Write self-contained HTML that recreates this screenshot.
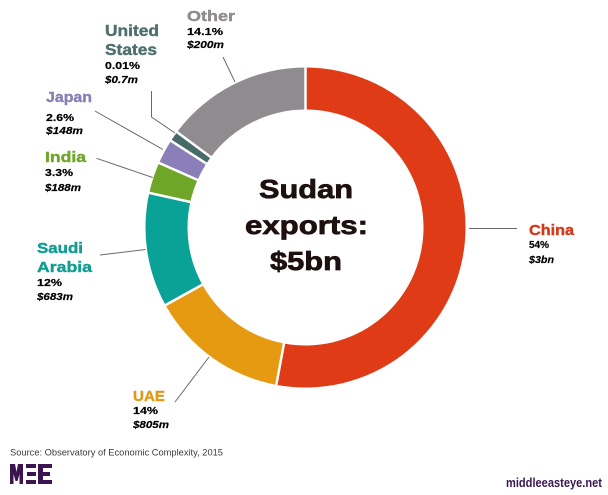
<!DOCTYPE html>
<html>
<head>
<meta charset="utf-8">
<style>
html,body{margin:0;padding:0;background:#fff;}
svg{display:block;}
text{font-family:"Liberation Sans",Arial,sans-serif;}
</style>
</head>
<body>
<svg width="608" height="495" viewBox="0 0 608 495" xmlns="http://www.w3.org/2000/svg">
<rect width="608" height="495" fill="#fff"/>
<g>
<path d="M305.5 67.5 A160 160 0 1 1 276.34 384.82 L284.00 343.52 A118 118 0 1 0 305.5 109.5 Z" fill="#e03b17"/>
<path d="M276.34 384.82 A160 160 0 0 1 165.56 305.07 L202.29 284.71 A118 118 0 0 0 284.00 343.52 Z" fill="#e69a12"/>
<path d="M165.56 305.07 A160 160 0 0 1 149.29 192.87 L190.30 201.96 A118 118 0 0 0 202.29 284.71 Z" fill="#0aa196"/>
<path d="M149.29 192.87 A160 160 0 0 1 159.11 162.93 L197.53 179.88 A118 118 0 0 0 190.30 201.96 Z" fill="#6ea628"/>
<path d="M159.11 162.93 A160 160 0 0 1 171.01 140.83 L206.31 163.58 A118 118 0 0 0 197.53 179.88 Z" fill="#8a7fb8"/>
<path d="M171.01 140.83 A160 160 0 0 1 177.05 132.10 L210.77 157.15 A118 118 0 0 0 206.31 163.58 Z" fill="#476b69"/>
<path d="M177.05 132.10 A160 160 0 0 1 305.5 67.5 L305.5 109.5 A118 118 0 0 0 210.77 157.15 Z" fill="#8f8b8f"/>
</g>
<g stroke="#fff" stroke-width="2.5">
<line x1="305.5" y1="112.5" x2="305.5" y2="64.5"/>
<line x1="284.54" y1="340.57" x2="275.79" y2="387.77"/>
<line x1="204.92" y1="283.25" x2="162.94" y2="306.52"/>
<line x1="193.23" y1="202.61" x2="146.36" y2="192.22"/>
<line x1="200.28" y1="181.09" x2="156.36" y2="161.72"/>
<line x1="208.83" y1="165.20" x2="168.49" y2="139.20"/>
<line x1="213.18" y1="158.93" x2="174.64" y2="130.32"/>
</g>

<!-- leader lines -->
<g stroke="#6a6a6a" stroke-width="1" fill="none">
<line x1="223" y1="57" x2="235" y2="82"/>
<polyline points="151.5,91 151.5,117 175,133"/>
<line x1="95" y1="111" x2="163" y2="149.5"/>
<line x1="96.5" y1="158.3" x2="152.7" y2="177.5"/>
<line x1="100" y1="255" x2="145.5" y2="249.5"/>
<line x1="175" y1="402" x2="209" y2="357"/>
<line x1="469" y1="228.5" x2="517" y2="228.5"/>
</g>

<!-- center title -->
<g fill="#1e1010" stroke="#1e1010" stroke-width="0.7" font-weight="bold" font-size="26" text-anchor="middle">
<text x="306" y="198" textLength="94" lengthAdjust="spacingAndGlyphs">Sudan</text>
<text x="306.5" y="234" textLength="123" lengthAdjust="spacingAndGlyphs">exports:</text>
<text x="306" y="270" textLength="72" lengthAdjust="spacingAndGlyphs">$5bn</text>
</g>

<!-- labels -->
<g font-weight="bold">
<text x="187" y="21" font-size="15" fill="#8f8b8f" stroke="#8f8b8f" stroke-width="0.4" textLength="48" lengthAdjust="spacingAndGlyphs">Other</text>
<text x="187" y="35" font-size="10.5" fill="#000" stroke="#000" stroke-width="0.2" textLength="36" lengthAdjust="spacingAndGlyphs">14.1%</text>
<text x="187" y="48" font-size="10.5" fill="#000" stroke="#000" stroke-width="0.2" font-style="italic" textLength="37" lengthAdjust="spacingAndGlyphs">$200m</text>

<text x="105" y="36" font-size="16" fill="#4f7070" stroke="#4f7070" stroke-width="0.4" textLength="54" lengthAdjust="spacingAndGlyphs">United</text>
<text x="105" y="55" font-size="16" fill="#4f7070" stroke="#4f7070" stroke-width="0.4" textLength="52" lengthAdjust="spacingAndGlyphs">States</text>
<text x="105" y="69" font-size="10.5" fill="#000" stroke="#000" stroke-width="0.2" textLength="35" lengthAdjust="spacingAndGlyphs">0.01%</text>
<text x="105" y="83" font-size="10.5" fill="#000" stroke="#000" stroke-width="0.2" font-style="italic" textLength="33" lengthAdjust="spacingAndGlyphs">$0.7m</text>

<text x="46" y="102" font-size="15" fill="#8a80b8" stroke="#8a80b8" stroke-width="0.4" textLength="46" lengthAdjust="spacingAndGlyphs">Japan</text>
<text x="46" y="121" font-size="10.5" fill="#000" stroke="#000" stroke-width="0.2" textLength="28" lengthAdjust="spacingAndGlyphs">2.6%</text>
<text x="46" y="134" font-size="10.5" fill="#000" stroke="#000" stroke-width="0.2" font-style="italic" textLength="37" lengthAdjust="spacingAndGlyphs">$148m</text>

<text x="45" y="162" font-size="15" fill="#6fa52b" stroke="#6fa52b" stroke-width="0.4" textLength="41" lengthAdjust="spacingAndGlyphs">India</text>
<text x="45" y="176" font-size="10.5" fill="#000" stroke="#000" stroke-width="0.2" textLength="28" lengthAdjust="spacingAndGlyphs">3.3%</text>
<text x="45" y="191" font-size="10.5" fill="#000" stroke="#000" stroke-width="0.2" font-style="italic" textLength="36" lengthAdjust="spacingAndGlyphs">$188m</text>

<text x="37" y="253" font-size="15" fill="#109e94" stroke="#109e94" stroke-width="0.4" textLength="46" lengthAdjust="spacingAndGlyphs">Saudi</text>
<text x="37" y="272" font-size="15" fill="#109e94" stroke="#109e94" stroke-width="0.4" textLength="55" lengthAdjust="spacingAndGlyphs">Arabia</text>
<text x="37" y="286" font-size="10.5" fill="#000" stroke="#000" stroke-width="0.2" textLength="25" lengthAdjust="spacingAndGlyphs">12%</text>
<text x="37" y="300" font-size="10.5" fill="#000" stroke="#000" stroke-width="0.2" font-style="italic" textLength="36" lengthAdjust="spacingAndGlyphs">$683m</text>

<text x="133" y="401" font-size="15" fill="#e09a1b" stroke="#e09a1b" stroke-width="0.4" textLength="32" lengthAdjust="spacingAndGlyphs">UAE</text>
<text x="133" y="414" font-size="10.5" fill="#000" stroke="#000" stroke-width="0.2" textLength="25" lengthAdjust="spacingAndGlyphs">14%</text>
<text x="133" y="428" font-size="10.5" fill="#000" stroke="#000" stroke-width="0.2" font-style="italic" textLength="36" lengthAdjust="spacingAndGlyphs">$805m</text>

<text x="529" y="235" font-size="15" fill="#d6391b" stroke="#d6391b" stroke-width="0.4" textLength="45" lengthAdjust="spacingAndGlyphs">China</text>
<text x="529" y="248" font-size="10.5" fill="#000" stroke="#000" stroke-width="0.2" textLength="20" lengthAdjust="spacingAndGlyphs">54%</text>
<text x="529" y="263" font-size="10.5" fill="#000" stroke="#000" stroke-width="0.2" font-style="italic" textLength="25" lengthAdjust="spacingAndGlyphs">$3bn</text>
</g>

<!-- source -->
<text x="10" y="455.5" font-size="9.5" fill="#3a3a3a" textLength="213" lengthAdjust="spacingAndGlyphs">Source: Observatory of Economic Complexity, 2015</text>

<!-- MEE logo -->
<g fill="#3d1452">
<path d="M10 484 L10 464 L15 464 L16.5 472 L18 464 L23 464 L23 484 L19.5 484 L19.5 474 L17.5 481 L15.5 481 L13.5 474 L13.5 484 Z"/>
<rect x="26" y="464" width="10" height="4"/>
<rect x="27" y="472" width="9" height="4"/>
<rect x="26" y="480" width="10" height="4"/>
<rect x="38" y="464" width="5" height="20"/>
<rect x="38" y="464" width="14" height="4"/>
<rect x="38" y="472" width="12" height="4"/>
<rect x="38" y="480" width="14" height="4"/>
</g>

<text x="506" y="487" font-size="12.5" font-weight="bold" fill="#3a1752" textLength="96" lengthAdjust="spacingAndGlyphs">middleeasteye.net</text>
</svg>
</body>
</html>
